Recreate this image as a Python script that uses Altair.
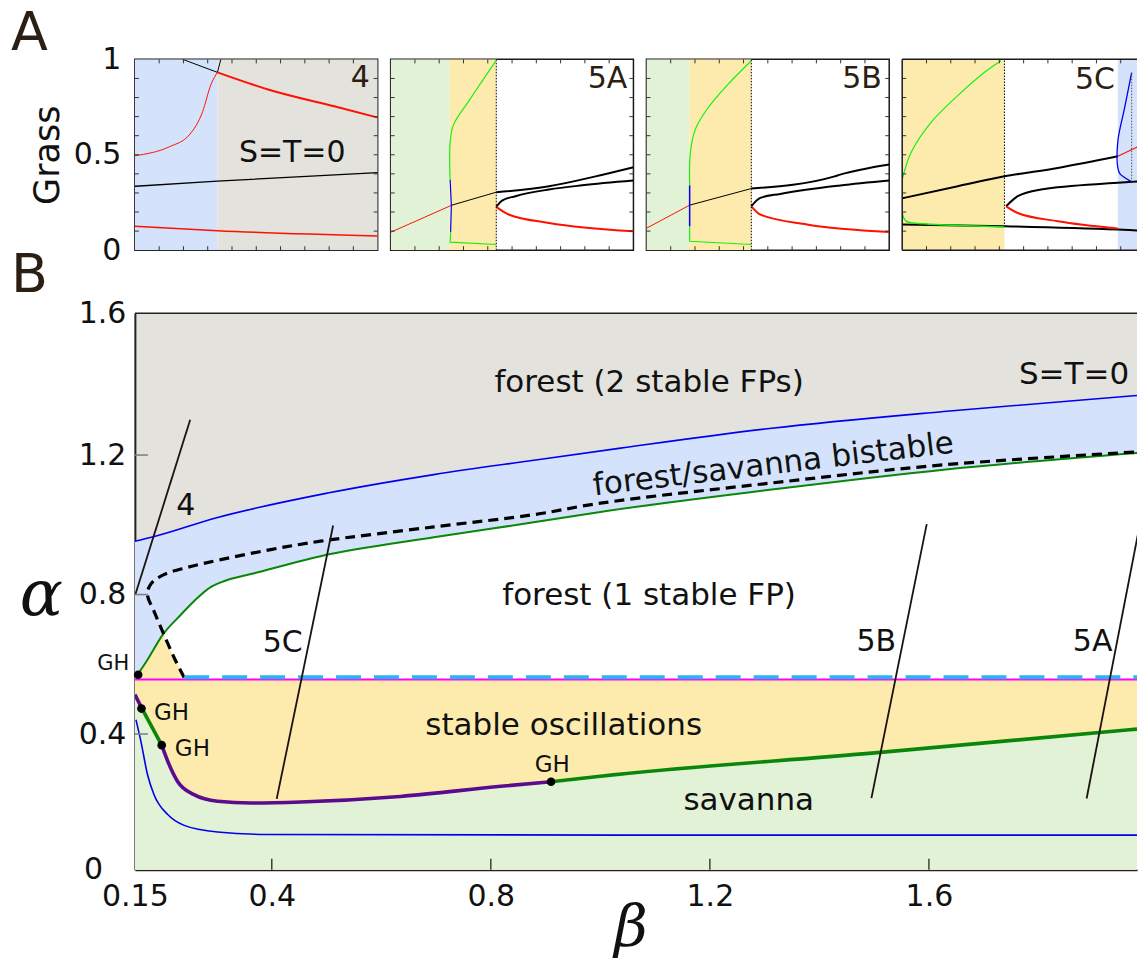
import altair as alt
import pandas as pd

FONT = "DejaVu Sans"
MATH_FONT = "DejaVu Serif"
INK = "#111111"
LETTER_INK = "#2b1f14"

GRAY_FILL = "#e3e2dc"
BLUE_FILL = "#d4e3fb"
YELLOW_FILL = "#fdebad"
GREEN_FILL = "#e2f2d7"

RED = "#ff1100"
BLUE = "#0000f0"
LIME = "#14f014"
DARK_GREEN = "#0a870a"
PURPLE = "#5b0c8e"
MAGENTA = "#ff00ff"
CYAN = "#2db3f3"
BLACK = "#000000"
RAY = "#1c1212"
TICK = "#333333"

# ------------------------------------------------------------------ panel B
BETA_MIN, BETA_MAX = 0.15, 1.98
ALPHA_MIN, ALPHA_MAX = 0.011, 1.607
B_WIDTH, B_HEIGHT = 1003, 557

beta_ticks = [0.15, 0.4, 0.8, 1.2, 1.6]
alpha_ticks = [0.4, 0.8, 1.2, ALPHA_MAX]
beta_inner_ticks = [0.4, 0.8, 1.2, 1.6]
alpha_inner_ticks = [0.4, 0.8, 1.2]

# upper edge of the bistable band
upper_blue_beta = [0.150, 0.182, 0.301, 0.502, 0.696, 0.878, 1.037, 1.313, 1.627, 1.980]
upper_blue_alpha = [0.953, 0.965, 1.021, 1.091, 1.144, 1.185, 1.220, 1.277, 1.325, 1.371]

# lower edge of the bistable band
upper_green_beta = [0.155, 0.173, 0.201, 0.234, 0.264, 0.289, 0.307, 0.368, 0.489, 0.696,
                    0.878, 1.000, 1.313, 1.627, 1.980]
upper_green_alpha = [0.570, 0.613, 0.685, 0.742, 0.790, 0.822, 0.835, 0.861, 0.910, 0.964,
                     1.007, 1.037, 1.101, 1.158, 1.206]

# dashed branch, listed along the curve (it folds back near the left edge)
dashed_beta = [0.240, 0.222, 0.203, 0.185, 0.173, 0.179, 0.203, 0.246, 0.307, 0.398, 0.489,
               0.696, 0.878, 1.000, 1.313, 1.627, 1.980]
dashed_alpha = [0.562, 0.618, 0.685, 0.752, 0.800, 0.830, 0.857, 0.878, 0.900, 0.929, 0.953,
                0.994, 1.029, 1.062, 1.120, 1.172, 1.209]

# small oscillation pocket above the magenta line
pocket_beta = [0.150, 0.155, 0.173, 0.202, 0.222, 0.240]
pocket_alpha = [0.563, 0.570, 0.613, 0.685, 0.618, 0.562]

# onset of oscillations (lower edge of the yellow band)
lower_beta = [0.150, 0.163, 0.199, 0.210, 0.228, 0.258, 0.301, 0.362, 0.453, 0.635, 0.818,
              0.910, 1.000, 1.501, 1.980]
lower_alpha = [0.513, 0.473, 0.368, 0.322, 0.264, 0.226, 0.207, 0.202, 0.205, 0.221, 0.250,
               0.263, 0.279, 0.346, 0.414]
# colour changes along that curve happen at these indices
lower_breaks = [0, 1, 2, 11, 14]
lower_colors = [PURPLE, DARK_GREEN, PURPLE, DARK_GREEN]

lower_blue_beta = [0.152, 0.161, 0.173, 0.185, 0.210, 0.240, 0.301, 0.392, 1.037, 1.980]
lower_blue_alpha = [0.441, 0.379, 0.284, 0.226, 0.169, 0.138, 0.119, 0.112, 0.110, 0.110]

magenta_alpha = 0.556
cyan_alpha = 0.563
cyan_start = 0.240

gh_beta = [0.156, 0.162, 0.199, 0.910]
gh_alpha = [0.570, 0.473, 0.368, 0.263]

ray_4 = [(0.151, 0.801), (0.251, 1.301)]
ray_5c = [(0.409, 0.214), (0.512, 0.998)]
ray_5b = [(1.495, 0.216), (1.596, 1.002)]
ray_5a = [(1.888, 0.215), (1.985, 1.000)]

region_labels = [("forest (2 stable FPs)", 1.089, 1.381),
                 ("S=T=0", 1.865, 1.404),
                 ("forest (1 stable FP)", 1.089, 0.771),
                 ("stable oscillations", 0.933, 0.398),
                 ("savanna", 1.271, 0.183)]
band_label = [("forest/savanna bistable", 1.318, 1.146)]
ray_labels = [("4", 0.243, 1.029), ("5C", 0.420, 0.635), ("5B", 1.504, 0.637), ("5A", 1.899, 0.637)]
gh_left_label = [("GH", 0.1396, 0.585)]
gh_right_labels = [("GH", 0.1847, 0.441), ("GH", 0.223, 0.336)]
gh_top_label = [("GH", 0.912, 0.291)]

# ------------------------------------------------------------------ panel A
A_WIDTH, A_HEIGHT = 243, 191
A_LAST_WIDTH = 235
SMALL_TICKS = [0.1, 0.2, 0.3, 0.4, 0.5, 0.6, 0.7, 0.8, 0.9]

p4_spans = [(0.0, 0.34, BLUE_FILL), (0.34, 1.0, GRAY_FILL)]
p4_red_rise = [(0.0, 0.495), (0.142, 0.542), (0.224, 0.604), (0.279, 0.726), (0.313, 0.867), (0.34, 0.932)]
p4_black_cap = [(0.197, 1.0), (0.34, 0.932), (0.354, 1.0)]
p4_red_upper = [(0.34, 0.932), (0.552, 0.841), (0.825, 0.753), (1.0, 0.695)]
p4_black_mid = [(0.0, 0.335), (0.34, 0.362), (1.0, 0.407)]
p4_red_low = [(0.0, 0.126), (0.34, 0.102), (1.0, 0.074)]

p5a_spans = [(0.0, 0.243, GREEN_FILL), (0.243, 0.435, YELLOW_FILL)]
p5a_red_thin = [(0.0, 0.094), (0.252, 0.236)]
p5a_black_thin = [(0.252, 0.236), (0.435, 0.304)]
p5a_black_upper = [(0.435, 0.304), (0.652, 0.335), (0.844, 0.387), (1.0, 0.435)]
p5a_black_mid = [(0.435, 0.227), (0.459, 0.260), (0.514, 0.283), (0.652, 0.318), (0.789, 0.340), (1.0, 0.365)]
p5a_red_low = [(0.435, 0.227), (0.486, 0.187), (0.652, 0.143), (1.0, 0.099)]
p5a_cycle_low = [(0.435, 0.030), (0.245, 0.042), (0.247, 0.096)]
p5a_cycle_mid = [(0.247, 0.096), (0.250, 0.236), (0.245, 0.370)]
p5a_cycle_up = [(0.245, 0.370), (0.245, 0.565), (0.259, 0.658), (0.321, 0.780), (0.376, 0.885), (0.435, 0.995)]
p5a_switch = [(0.435, 0.0), (0.435, 1.0)]

p5b_spans = [(0.0, 0.177, GREEN_FILL), (0.177, 0.432, YELLOW_FILL)]
p5b_red_thin = [(0.0, 0.115), (0.178, 0.236)]
p5b_black_thin = [(0.178, 0.236), (0.432, 0.323)]
p5b_black_upper = [(0.432, 0.323), (0.775, 0.387), (0.798, 0.396), (1.0, 0.449)]
p5b_black_mid = [(0.432, 0.230), (0.469, 0.274), (0.551, 0.295), (0.798, 0.339), (1.0, 0.365)]
p5b_red_low = [(0.432, 0.230), (0.469, 0.187), (0.661, 0.135), (1.0, 0.096)]
p5b_cycle_low = [(0.432, 0.030), (0.178, 0.047), (0.178, 0.126)]
p5b_cycle_mid = [(0.178, 0.126), (0.178, 0.340)]
p5b_cycle_up = [(0.178, 0.340), (0.181, 0.513), (0.202, 0.635), (0.250, 0.740), (0.332, 0.864), (0.432, 0.993)]
p5b_switch = [(0.432, 0.0), (0.432, 1.0)]

P5C_XMAX = 0.967
p5c_spans = [(0.0, 0.421, YELLOW_FILL), (0.888, P5C_XMAX, BLUE_FILL)]
p5c_black_upper = [(0.0, 0.272), (0.229, 0.335), (0.421, 0.387), (0.641, 0.431), (0.888, 0.492)]
p5c_red_upper = [(0.888, 0.492), (0.975, 0.545)]
p5c_black_low = [(0.0, 0.135), (0.421, 0.126), (0.888, 0.108), (0.975, 0.103)]
p5c_black_mid = [(0.428, 0.230), (0.476, 0.283), (0.572, 0.318), (0.888, 0.353), (0.975, 0.361)]
p5c_red_low = [(0.428, 0.230), (0.476, 0.195), (0.641, 0.152), (0.888, 0.114)]
p5c_cycle_up = [(0.0, 0.370), (0.037, 0.513), (0.119, 0.670), (0.229, 0.810), (0.339, 0.932), (0.407, 0.993)]
p5c_cycle_low = [(0.0, 0.195), (0.016, 0.152), (0.092, 0.138), (0.421, 0.122)]
p5c_switch = [(0.421, 0.122), (0.421, 1.0)]
p5c_blue_cycle = [(0.942, 0.361), (0.897, 0.400), (0.888, 0.431), (0.888, 0.570), (0.915, 0.740), (0.945, 0.930)]
p5c_blue_return = [(0.945, 0.930), (0.945, 0.361)]


def curve_frame(xs, ys):
    return pd.DataFrame({"x": list(xs), "y": list(ys), "i": list(range(len(xs)))})


def pairs_frame(pairs):
    return curve_frame([p[0] for p in pairs], [p[1] for p in pairs])


def text_frame(entries):
    return pd.DataFrame({"s": [e[0] for e in entries], "x": [e[1] for e in entries],
                         "y": [e[2] for e in entries]})


# ------------------------------------------------------------------ small panels
GRASS_AXIS = alt.Axis(values=[0, 0.5, 1], format="~g", labelFont=FONT, labelFontSize=30,
                      labelColor=INK, labelPadding=14, labelFlush=False, labelOverlap=False,
                      ticks=False, domain=False, grid=False,
                      title="Grass", titleFont=FONT, titleFontSize=35, titleFontWeight="normal",
                      titleColor=INK, titleAngle=270, titleX=-87, titleY=95.5,
                      titleAlign="center", titleBaseline="middle")


def small_panel(width, xmax, spans, curves, tags, y_axis=None, framed=True, letter=None):
    xs = alt.Scale(domain=[0, xmax], nice=False, zero=False)
    ys = alt.Scale(domain=[0, 1], nice=False, zero=False)

    def ax(field):
        return alt.X(field, scale=xs, axis=None)

    def ay(field):
        return alt.Y(field, scale=ys, axis=y_axis)

    layers = []
    bands = pd.DataFrame({"x0": [s[0] for s in spans], "x1": [s[1] for s in spans],
                          "c": [s[2] for s in spans]})
    layers.append(alt.Chart(bands).mark_rect(clip=True).encode(
        x=ax("x0:Q"), x2="x1:Q",
        y=alt.YDatum(1.0, scale=ys, axis=y_axis), y2=alt.Y2Datum(0.0),
        color=alt.Color("c:N", scale=None)))
    for pairs, color, stroke_w, dash, interp in curves:
        props = dict(color=color, strokeWidth=stroke_w, interpolate=interp, clip=True)
        if dash:
            props["strokeDash"] = dash
        layers.append(alt.Chart(pairs_frame(pairs)).mark_line(**props).encode(
            x=ax("x:Q"), y=ay("y:Q"), order="i:Q"))
    ticks = pd.DataFrame({"t": SMALL_TICKS})
    rule = dict(color=TICK, strokeWidth=1)
    layers.append(alt.Chart(ticks).mark_rule(**rule).encode(
        x=ax("t:Q"), y=alt.value(0), y2=alt.value(4)))
    layers.append(alt.Chart(ticks).mark_rule(**rule).encode(
        x=ax("t:Q"), y=alt.value(A_HEIGHT - 4), y2=alt.value(A_HEIGHT)))
    layers.append(alt.Chart(ticks).mark_rule(**rule).encode(
        y=ay("t:Q"), x=alt.value(0), x2=alt.value(4)))
    if framed:
        layers.append(alt.Chart(ticks).mark_rule(**rule).encode(
            y=ay("t:Q"), x=alt.value(width - 4), x2=alt.value(width)))
    else:
        edge = pd.DataFrame({"k": [0]})
        edge_rule = dict(color="#1a1a1a", strokeWidth=1.5)
        layers.append(alt.Chart(edge).mark_rule(**edge_rule).encode(x=alt.XDatum(0.0, scale=xs, axis=None)))
        layers.append(alt.Chart(edge).mark_rule(**edge_rule).encode(y=alt.YDatum(1.0, scale=ys, axis=y_axis)))
        layers.append(alt.Chart(edge).mark_rule(**edge_rule).encode(y=alt.YDatum(0.0, scale=ys, axis=y_axis)))
    for text, tx, ty, align, color in tags:
        layers.append(alt.Chart(text_frame([(text, tx, ty)])).mark_text(
            font=FONT, fontSize=30, color=color, align=align, baseline="alphabetic").encode(
            x=ax("x:Q"), y=ay("y:Q"), text="s:N"))
    if letter:
        layers.append(alt.Chart(pd.DataFrame({"s": [letter[0]]})).mark_text(
            font=FONT, fontSize=54, color=LETTER_INK, align="left", baseline="top").encode(
            x=alt.value(letter[1]), y=alt.value(letter[2]), text="s:N"))
    if framed:
        view = alt.ViewBackground(stroke="#1a1a1a", strokeWidth=1.5)
    else:
        view = alt.ViewBackground(fill="#ffffff")
    return alt.layer(*layers).properties(width=width, height=A_HEIGHT, view=view)


LIN, SMOOTH, PATH = "linear", "monotone", "catmull-rom"
DOTS = [1.5, 1.5]

p4 = small_panel(
    A_WIDTH, 1.0, p4_spans,
    [(p4_red_rise, RED, 1.0, None, SMOOTH), (p4_black_cap, BLACK, 1.0, None, LIN),
     (p4_red_upper, RED, 2.0, None, SMOOTH), (p4_black_mid, BLACK, 1.3, None, SMOOTH),
     (p4_red_low, RED, 1.5, None, SMOOTH)],
    [("4", 0.968, 0.853, "right", LETTER_INK), ("S=T=0", 0.648, 0.463, "center", INK)],
    y_axis=GRASS_AXIS, letter=("A", -124, -52))

p5a = small_panel(
    A_WIDTH, 1.0, p5a_spans,
    [(p5a_red_thin, RED, 1.0, None, LIN), (p5a_black_thin, BLACK, 1.0, None, LIN),
     (p5a_black_upper, BLACK, 2.0, None, SMOOTH), (p5a_black_mid, BLACK, 2.0, None, SMOOTH),
     (p5a_red_low, RED, 2.0, None, SMOOTH), (p5a_switch, BLACK, 1.0, DOTS, LIN),
     (p5a_cycle_low, LIME, 1.2, None, LIN), (p5a_cycle_mid, BLUE, 1.2, None, LIN),
     (p5a_cycle_up, LIME, 1.2, None, PATH)],
    [("5A", 0.975, 0.850, "right", LETTER_INK)])

p5b = small_panel(
    A_WIDTH, 1.0, p5b_spans,
    [(p5b_red_thin, RED, 1.0, None, LIN), (p5b_black_thin, BLACK, 1.0, None, LIN),
     (p5b_black_upper, BLACK, 2.0, None, SMOOTH), (p5b_black_mid, BLACK, 2.0, None, SMOOTH),
     (p5b_red_low, RED, 2.0, None, SMOOTH), (p5b_switch, BLACK, 1.0, DOTS, LIN),
     (p5b_cycle_low, LIME, 1.2, None, LIN), (p5b_cycle_mid, BLUE, 1.5, None, LIN),
     (p5b_cycle_up, LIME, 1.2, None, PATH)],
    [("5B", 0.970, 0.850, "right", LETTER_INK)])

p5c = small_panel(
    A_LAST_WIDTH, P5C_XMAX, p5c_spans,
    [(p5c_black_upper, BLACK, 2.0, None, SMOOTH), (p5c_red_upper, RED, 1.2, None, LIN),
     (p5c_black_low, BLACK, 2.0, None, SMOOTH), (p5c_black_mid, BLACK, 2.0, None, SMOOTH),
     (p5c_red_low, RED, 2.0, None, SMOOTH), (p5c_switch, BLACK, 1.0, DOTS, LIN),
     (p5c_cycle_up, LIME, 1.2, None, PATH), (p5c_cycle_low, LIME, 1.5, None, PATH),
     (p5c_blue_cycle, BLUE, 1.3, None, PATH), (p5c_blue_return, "#555555", 1.0, DOTS, LIN)],
    [("5C", 0.794, 0.847, "center", LETTER_INK)], framed=False)

# ------------------------------------------------------------------ panel B
XB = alt.Scale(domain=[BETA_MIN, BETA_MAX], nice=False, zero=False)
YB = alt.Scale(domain=[ALPHA_MIN, ALPHA_MAX], nice=False, zero=False)

X_AXIS_B = alt.Axis(values=beta_ticks, format="~g", labelFont=FONT, labelFontSize=30,
                    labelColor=INK, labelFlush=False, labelOverlap=False, labelPadding=12,
                    ticks=False, grid=False, domainColor="#222222", domainWidth=2,
                    title="β", titleFont=MATH_FONT, titleFontStyle="italic",
                    titleFontWeight="normal", titleFontSize=58, titleColor=INK,
                    titleX=496, titleY=76, titleAlign="center", titleBaseline="alphabetic")
Y_AXIS_B = alt.Axis(values=alpha_ticks,
                    labelExpr="datum.value > 1.5 ? '1.6' : format(datum.value, '.1f')",
                    labelFont=FONT, labelFontSize=30, labelColor=INK, labelFlush=False,
                    labelOverlap=False, labelPadding=9, ticks=False, grid=False,
                    domainColor="#222222", domainWidth=2,
                    title="α", titleFont=MATH_FONT, titleFontStyle="italic",
                    titleFontWeight="normal", titleFontSize=64, titleColor=INK, titleAngle=0,
                    titleX=-94, titleY=302, titleAlign="center", titleBaseline="alphabetic")


def bx(field="x:Q"):
    return alt.X(field, scale=XB, axis=X_AXIS_B)


def by(field="y:Q"):
    return alt.Y(field, scale=YB, axis=Y_AXIS_B)


def b_fill(frame, color, floor=ALPHA_MIN, interp=SMOOTH):
    return alt.Chart(frame).mark_area(color=color, interpolate=interp, clip=True).encode(
        x=bx(), y=by(), y2=alt.Y2Datum(floor))


def b_line(frame, color, stroke_w, dash=None, interp=SMOOTH):
    props = dict(color=color, strokeWidth=stroke_w, interpolate=interp, clip=True)
    if dash:
        props["strokeDash"] = dash
    return alt.Chart(frame).mark_line(**props).encode(x=bx(), y=by(), order="i:Q")


def b_text(entries, size, align="center", angle=None, color=INK):
    props = dict(font=FONT, fontSize=size, color=color, align=align, baseline="alphabetic")
    if angle is not None:
        props["angle"] = angle
    return alt.Chart(text_frame(entries)).mark_text(**props).encode(x=bx(), y=by(), text="s:N")


upper_blue = curve_frame(upper_blue_beta, upper_blue_alpha)
upper_green = curve_frame(upper_green_beta, upper_green_alpha)
dashed = curve_frame(dashed_beta, dashed_alpha)
pocket = curve_frame(pocket_beta, pocket_alpha)
lower = curve_frame(lower_beta, lower_alpha)
lower_blue = curve_frame(lower_blue_beta, lower_blue_alpha)
magenta = curve_frame([BETA_MIN, BETA_MAX], [magenta_alpha, magenta_alpha])
cyan = curve_frame([cyan_start, BETA_MAX], [cyan_alpha, cyan_alpha])

b_layers = [
    b_fill(upper_blue, BLUE_FILL),
    b_fill(upper_green, "#ffffff"),
    b_fill(magenta, YELLOW_FILL, interp=LIN),
    b_fill(pocket, YELLOW_FILL, floor=magenta_alpha, interp=LIN),
    b_fill(lower, GREEN_FILL),
    b_line(upper_blue, BLUE, 1.6),
    b_line(upper_green, DARK_GREEN, 2.0),
    b_line(dashed, BLACK, 3.2, dash=[10, 6], interp=PATH),
    b_line(lower_blue, BLUE, 1.6),
    b_line(magenta, MAGENTA, 2.0, interp=LIN),
    b_line(cyan, CYAN, 4.0, dash=[25, 13], interp=LIN),
]
for k, color in enumerate(lower_colors):
    a, b = lower_breaks[k], lower_breaks[k + 1]
    seg = curve_frame(lower_beta[a:b + 1], lower_alpha[a:b + 1])
    b_layers.append(b_line(seg, color, 3.6))
for ray in (ray_4, ray_5c, ray_5b, ray_5a):
    b_layers.append(b_line(pairs_frame(ray), RAY, 1.8, interp=LIN))

b_layers.append(alt.Chart(curve_frame(gh_beta, gh_alpha)).mark_circle(
    size=75, color=BLACK, opacity=1).encode(x=bx(), y=by()))

b_layers += [
    b_text(region_labels, 31),
    b_text(band_label, 31, angle=353.2),
    b_text(ray_labels, 30),
    b_text(gh_left_label, 21, align="right"),
    b_text(gh_right_labels, 23, align="left"),
    b_text(gh_top_label, 23),
]

inner_x = pd.DataFrame({"t": beta_inner_ticks})
inner_y = pd.DataFrame({"t": alpha_inner_ticks})
b_layers.append(alt.Chart(inner_x).mark_rule(color=TICK, strokeWidth=1.4).encode(
    x=bx("t:Q"), y=alt.value(B_HEIGHT - 11), y2=alt.value(B_HEIGHT)))
b_layers.append(alt.Chart(inner_y).mark_rule(color="#808080", strokeWidth=1.6).encode(
    y=by("t:Q"), x=alt.value(0), x2=alt.value(13)))
b_layers.append(alt.Chart(pd.DataFrame({"k": [0]})).mark_rule(color="#222222", strokeWidth=1.5).encode(
    y=alt.YDatum(ALPHA_MAX, scale=YB, axis=Y_AXIS_B)))
b_layers.append(alt.Chart(pd.DataFrame({"s": ["0"]})).mark_text(
    font=FONT, fontSize=30, color=INK, align="center", baseline="alphabetic").encode(
    x=alt.value(-41.5), y=alt.value(566), text="s:N"))
b_layers.append(alt.Chart(pd.DataFrame({"s": ["B"]})).mark_text(
    font=FONT, fontSize=54, color=LETTER_INK, align="left", baseline="top").encode(
    x=alt.value(-124), y=alt.value(-64), text="s:N"))

panel_b = alt.layer(*b_layers).properties(
    width=B_WIDTH, height=B_HEIGHT, view=alt.ViewBackground(fill=GRAY_FILL))

top_row = alt.hconcat(p4, p5a, p5b, p5c, spacing=13, bounds="flush")
chart = alt.vconcat(top_row, panel_b, spacing=-17).properties(
    padding={"left": 10, "top": 6, "right": 0, "bottom": 0},
    background="#ffffff",
).configure(font=FONT).configure_view(stroke=None)

chart.save("out.html", embed_options={"renderer": "svg", "actions": False})
